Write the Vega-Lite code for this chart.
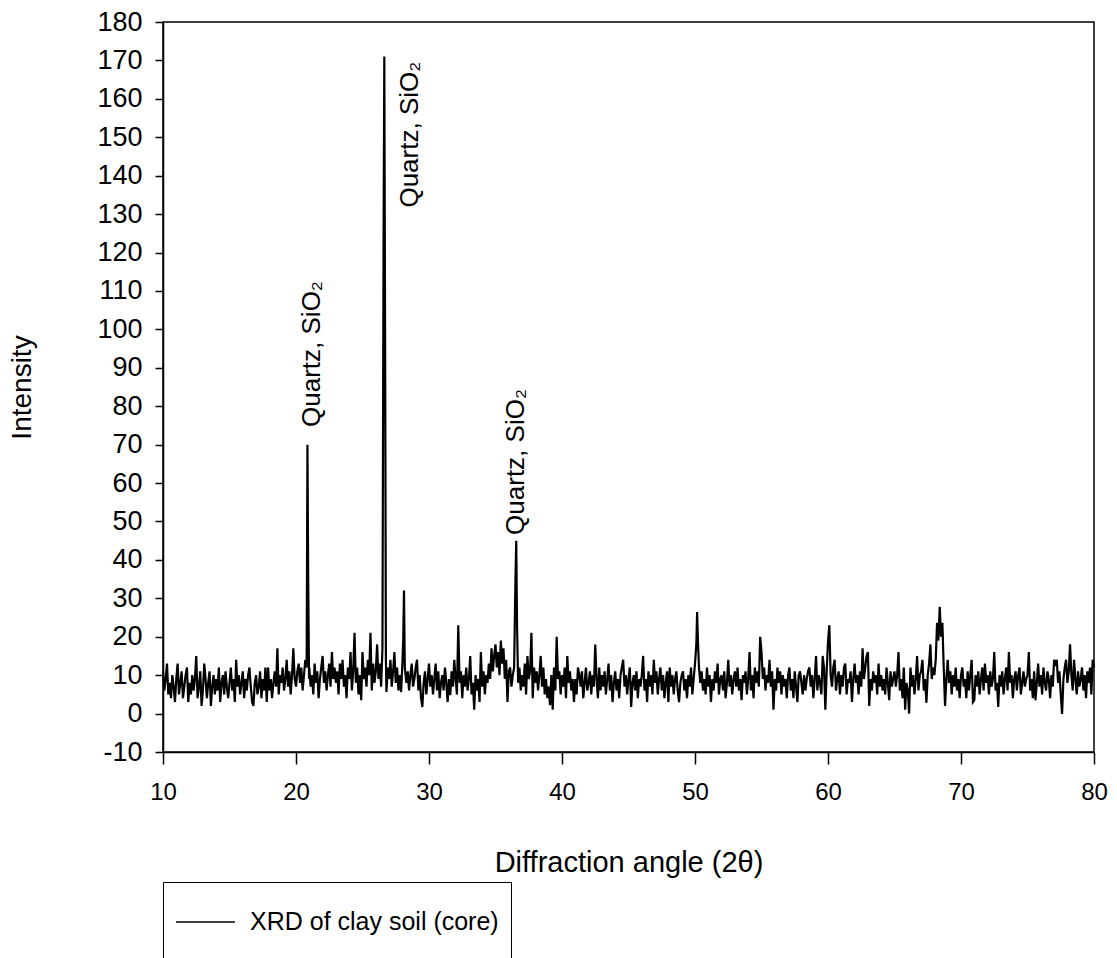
{
"$schema":"https://vega.github.io/schema/vega-lite/v6.json",
"width":931,"height":730,
"autosize":{"type":"none"},
"padding":{"left":163,"top":22,"right":23,"bottom":206},
"background":"white",
"datasets":{
"xrd":[
{"angle":10.0,"intensity":11},{"angle":10.1,"intensity":6},{"angle":10.2,"intensity":9},{"angle":10.3,"intensity":13},{"angle":10.4,"intensity":5},{"angle":10.5,"intensity":8},{"angle":10.6,"intensity":4},{"angle":10.7,"intensity":10},{"angle":10.8,"intensity":7},{"angle":10.9,"intensity":3},
{"angle":11.0,"intensity":9},{"angle":11.1,"intensity":13},{"angle":11.2,"intensity":5},{"angle":11.3,"intensity":8},{"angle":11.4,"intensity":11},{"angle":11.5,"intensity":4},{"angle":11.6,"intensity":7},{"angle":11.7,"intensity":10},{"angle":11.8,"intensity":12},{"angle":11.9,"intensity":3},
{"angle":12.0,"intensity":8},{"angle":12.1,"intensity":5},{"angle":12.2,"intensity":10},{"angle":12.3,"intensity":6},{"angle":12.4,"intensity":9},{"angle":12.5,"intensity":15},{"angle":12.6,"intensity":4},{"angle":12.7,"intensity":7},{"angle":12.8,"intensity":11},{"angle":12.9,"intensity":2},
{"angle":13.0,"intensity":6},{"angle":13.1,"intensity":13},{"angle":13.2,"intensity":9},{"angle":13.3,"intensity":4},{"angle":13.4,"intensity":8},{"angle":13.5,"intensity":11},{"angle":13.6,"intensity":2},{"angle":13.7,"intensity":7},{"angle":13.8,"intensity":10},{"angle":13.9,"intensity":5},
{"angle":14.0,"intensity":9},{"angle":14.1,"intensity":6},{"angle":14.2,"intensity":12},{"angle":14.3,"intensity":3},{"angle":14.4,"intensity":8},{"angle":14.5,"intensity":10},{"angle":14.6,"intensity":5},{"angle":14.7,"intensity":11},{"angle":14.8,"intensity":7},{"angle":14.9,"intensity":4},
{"angle":15.0,"intensity":8},{"angle":15.1,"intensity":12},{"angle":15.2,"intensity":6},{"angle":15.3,"intensity":9},{"angle":15.4,"intensity":3},{"angle":15.5,"intensity":14},{"angle":15.6,"intensity":7},{"angle":15.7,"intensity":10},{"angle":15.8,"intensity":5},{"angle":15.9,"intensity":8},
{"angle":16.0,"intensity":11},{"angle":16.1,"intensity":4},{"angle":16.2,"intensity":9},{"angle":16.3,"intensity":6},{"angle":16.4,"intensity":10},{"angle":16.5,"intensity":12},{"angle":16.6,"intensity":7},{"angle":16.7,"intensity":3},{"angle":16.8,"intensity":2},{"angle":16.9,"intensity":8},
{"angle":17.0,"intensity":10},{"angle":17.1,"intensity":5},{"angle":17.2,"intensity":7},{"angle":17.3,"intensity":11},{"angle":17.4,"intensity":4},{"angle":17.5,"intensity":9},{"angle":17.6,"intensity":6},{"angle":17.7,"intensity":12},{"angle":17.8,"intensity":3},{"angle":17.9,"intensity":12},
{"angle":18.0,"intensity":6},{"angle":18.1,"intensity":9},{"angle":18.2,"intensity":4},{"angle":18.3,"intensity":8},{"angle":18.4,"intensity":11},{"angle":18.5,"intensity":7},{"angle":18.6,"intensity":17},{"angle":18.7,"intensity":5},{"angle":18.8,"intensity":10},{"angle":18.9,"intensity":8},
{"angle":19.0,"intensity":12},{"angle":19.1,"intensity":6},{"angle":19.2,"intensity":9},{"angle":19.3,"intensity":14},{"angle":19.4,"intensity":7},{"angle":19.5,"intensity":11},{"angle":19.6,"intensity":5},{"angle":19.7,"intensity":10},{"angle":19.8,"intensity":17},{"angle":19.9,"intensity":9},
{"angle":20.0,"intensity":7},{"angle":20.1,"intensity":11},{"angle":20.2,"intensity":13},{"angle":20.3,"intensity":8},{"angle":20.4,"intensity":12},{"angle":20.5,"intensity":6},{"angle":20.6,"intensity":10},{"angle":20.7,"intensity":14},{"angle":20.8,"intensity":12},{"angle":20.86,"intensity":70},{"angle":20.92,"intensity":34},{"angle":20.98,"intensity":9},
{"angle":21.0,"intensity":12},{"angle":21.1,"intensity":7},{"angle":21.2,"intensity":10},{"angle":21.3,"intensity":5},{"angle":21.4,"intensity":13},{"angle":21.5,"intensity":8},{"angle":21.6,"intensity":11},{"angle":21.7,"intensity":4},{"angle":21.8,"intensity":9},{"angle":21.9,"intensity":12},
{"angle":22.0,"intensity":15},{"angle":22.1,"intensity":8},{"angle":22.2,"intensity":11},{"angle":22.3,"intensity":6},{"angle":22.4,"intensity":10},{"angle":22.5,"intensity":13},{"angle":22.6,"intensity":7},{"angle":22.7,"intensity":16},{"angle":22.8,"intensity":9},{"angle":22.9,"intensity":12},
{"angle":23.0,"intensity":8},{"angle":23.1,"intensity":11},{"angle":23.2,"intensity":5},{"angle":23.3,"intensity":13},{"angle":23.4,"intensity":9},{"angle":23.5,"intensity":14},{"angle":23.6,"intensity":7},{"angle":23.7,"intensity":10},{"angle":23.8,"intensity":4},{"angle":23.9,"intensity":12},
{"angle":24.0,"intensity":9},{"angle":24.1,"intensity":16},{"angle":24.2,"intensity":6},{"angle":24.3,"intensity":11},{"angle":24.4,"intensity":21},{"angle":24.5,"intensity":8},{"angle":24.6,"intensity":12},{"angle":24.7,"intensity":5},{"angle":24.8,"intensity":10},{"angle":24.9,"intensity":3.5},
{"angle":25.0,"intensity":16},{"angle":25.1,"intensity":9},{"angle":25.2,"intensity":12},{"angle":25.3,"intensity":7},{"angle":25.4,"intensity":14},{"angle":25.5,"intensity":10},{"angle":25.6,"intensity":21},{"angle":25.7,"intensity":6},{"angle":25.8,"intensity":13},{"angle":25.9,"intensity":8},
{"angle":26.0,"intensity":11},{"angle":26.1,"intensity":18},{"angle":26.2,"intensity":9},{"angle":26.3,"intensity":13},{"angle":26.4,"intensity":7},{"angle":26.5,"intensity":17},{"angle":26.58,"intensity":120},{"angle":26.64,"intensity":171},{"angle":26.7,"intensity":97},{"angle":26.76,"intensity":14},{"angle":26.8,"intensity":5.6},{"angle":26.9,"intensity":12},
{"angle":27.0,"intensity":9},{"angle":27.1,"intensity":14},{"angle":27.2,"intensity":7},{"angle":27.3,"intensity":11},{"angle":27.4,"intensity":16},{"angle":27.5,"intensity":8},{"angle":27.6,"intensity":12},{"angle":27.7,"intensity":6},{"angle":27.8,"intensity":10},{"angle":27.9,"intensity":5.6},
{"angle":28.0,"intensity":13},{"angle":28.06,"intensity":19},{"angle":28.12,"intensity":32},{"angle":28.18,"intensity":12},{"angle":28.3,"intensity":8},{"angle":28.4,"intensity":11},{"angle":28.5,"intensity":6},{"angle":28.6,"intensity":10},{"angle":28.7,"intensity":13},{"angle":28.8,"intensity":7},{"angle":28.9,"intensity":9},
{"angle":29.0,"intensity":12},{"angle":29.1,"intensity":14},{"angle":29.2,"intensity":6},{"angle":29.3,"intensity":10},{"angle":29.4,"intensity":4},{"angle":29.5,"intensity":1.7},{"angle":29.6,"intensity":8},{"angle":29.7,"intensity":11},{"angle":29.8,"intensity":5},{"angle":29.9,"intensity":9},
{"angle":30.0,"intensity":13},{"angle":30.1,"intensity":7},{"angle":30.2,"intensity":10},{"angle":30.3,"intensity":5},{"angle":30.4,"intensity":9},{"angle":30.5,"intensity":13},{"angle":30.6,"intensity":6},{"angle":30.7,"intensity":11},{"angle":30.8,"intensity":4},{"angle":30.9,"intensity":8},
{"angle":31.0,"intensity":10},{"angle":31.1,"intensity":6},{"angle":31.2,"intensity":12},{"angle":31.3,"intensity":8},{"angle":31.4,"intensity":3},{"angle":31.5,"intensity":9},{"angle":31.6,"intensity":4.8},{"angle":31.7,"intensity":11},{"angle":31.8,"intensity":7},{"angle":31.9,"intensity":14},
{"angle":32.0,"intensity":9},{"angle":32.1,"intensity":5},{"angle":32.2,"intensity":23},{"angle":32.3,"intensity":8},{"angle":32.4,"intensity":11},{"angle":32.5,"intensity":4},{"angle":32.6,"intensity":10},{"angle":32.7,"intensity":7},{"angle":32.8,"intensity":12},{"angle":32.9,"intensity":6},
{"angle":33.0,"intensity":9},{"angle":33.1,"intensity":15},{"angle":33.2,"intensity":5},{"angle":33.3,"intensity":8},{"angle":33.4,"intensity":1},{"angle":33.5,"intensity":10},{"angle":33.6,"intensity":6},{"angle":33.7,"intensity":9},{"angle":33.8,"intensity":3},{"angle":33.9,"intensity":16},
{"angle":34.0,"intensity":7},{"angle":34.1,"intensity":11},{"angle":34.2,"intensity":5},{"angle":34.3,"intensity":10},{"angle":34.4,"intensity":8},{"angle":34.5,"intensity":13},{"angle":34.6,"intensity":9},{"angle":34.7,"intensity":17},{"angle":34.8,"intensity":11},{"angle":34.9,"intensity":15},
{"angle":35.0,"intensity":18},{"angle":35.1,"intensity":12},{"angle":35.2,"intensity":16},{"angle":35.3,"intensity":10},{"angle":35.4,"intensity":19},{"angle":35.5,"intensity":13},{"angle":35.6,"intensity":17},{"angle":35.7,"intensity":9},{"angle":35.8,"intensity":14},{"angle":35.9,"intensity":3},
{"angle":36.0,"intensity":11},{"angle":36.1,"intensity":12},{"angle":36.2,"intensity":7},{"angle":36.3,"intensity":10},{"angle":36.4,"intensity":12},{"angle":36.5,"intensity":35},{"angle":36.56,"intensity":45},{"angle":36.62,"intensity":23},{"angle":36.7,"intensity":8},{"angle":36.8,"intensity":12},{"angle":36.9,"intensity":6},
{"angle":37.0,"intensity":10},{"angle":37.1,"intensity":7},{"angle":37.2,"intensity":13},{"angle":37.3,"intensity":5},{"angle":37.4,"intensity":15},{"angle":37.5,"intensity":9},{"angle":37.6,"intensity":11},{"angle":37.7,"intensity":21},{"angle":37.8,"intensity":4},{"angle":37.9,"intensity":12},
{"angle":38.0,"intensity":8},{"angle":38.1,"intensity":11},{"angle":38.2,"intensity":6},{"angle":38.3,"intensity":10},{"angle":38.4,"intensity":15},{"angle":38.5,"intensity":7},{"angle":38.6,"intensity":12},{"angle":38.7,"intensity":5},{"angle":38.8,"intensity":9},{"angle":38.9,"intensity":4},
{"angle":39.0,"intensity":7},{"angle":39.1,"intensity":2.2},{"angle":39.2,"intensity":10},{"angle":39.3,"intensity":1},{"angle":39.4,"intensity":12},{"angle":39.5,"intensity":6},{"angle":39.6,"intensity":20},{"angle":39.7,"intensity":9},{"angle":39.8,"intensity":11},{"angle":39.9,"intensity":5},
{"angle":40.0,"intensity":10},{"angle":40.1,"intensity":7},{"angle":40.2,"intensity":12},{"angle":40.3,"intensity":4},{"angle":40.4,"intensity":15},{"angle":40.5,"intensity":8},{"angle":40.6,"intensity":11},{"angle":40.7,"intensity":6},{"angle":40.8,"intensity":9},{"angle":40.9,"intensity":3},
{"angle":41.0,"intensity":9},{"angle":41.1,"intensity":5},{"angle":41.2,"intensity":12},{"angle":41.3,"intensity":10},{"angle":41.4,"intensity":7},{"angle":41.5,"intensity":11},{"angle":41.6,"intensity":4},{"angle":41.7,"intensity":8},{"angle":41.8,"intensity":12},{"angle":41.9,"intensity":6},
{"angle":42.0,"intensity":8},{"angle":42.1,"intensity":11},{"angle":42.2,"intensity":5},{"angle":42.3,"intensity":10},{"angle":42.4,"intensity":7},{"angle":42.5,"intensity":18},{"angle":42.6,"intensity":9},{"angle":42.7,"intensity":4},{"angle":42.8,"intensity":12},{"angle":42.9,"intensity":6},
{"angle":43.0,"intensity":10},{"angle":43.1,"intensity":7},{"angle":43.2,"intensity":11},{"angle":43.3,"intensity":5},{"angle":43.4,"intensity":9},{"angle":43.5,"intensity":13},{"angle":43.6,"intensity":6},{"angle":43.7,"intensity":10},{"angle":43.8,"intensity":3},{"angle":43.9,"intensity":8},
{"angle":44.0,"intensity":11},{"angle":44.1,"intensity":6},{"angle":44.2,"intensity":9},{"angle":44.3,"intensity":4},{"angle":44.4,"intensity":10},{"angle":44.5,"intensity":12},{"angle":44.6,"intensity":14},{"angle":44.7,"intensity":7},{"angle":44.8,"intensity":10},{"angle":44.9,"intensity":5},
{"angle":45.0,"intensity":9},{"angle":45.1,"intensity":12},{"angle":45.2,"intensity":1.7},{"angle":45.3,"intensity":8},{"angle":45.4,"intensity":10},{"angle":45.5,"intensity":6},{"angle":45.6,"intensity":11},{"angle":45.7,"intensity":4},{"angle":45.8,"intensity":9},{"angle":45.9,"intensity":7},
{"angle":46.0,"intensity":10},{"angle":46.1,"intensity":15},{"angle":46.2,"intensity":6},{"angle":46.3,"intensity":9},{"angle":46.4,"intensity":3},{"angle":46.5,"intensity":11},{"angle":46.6,"intensity":7},{"angle":46.7,"intensity":10},{"angle":46.8,"intensity":5},{"angle":46.9,"intensity":14},
{"angle":47.0,"intensity":8},{"angle":47.1,"intensity":11},{"angle":47.2,"intensity":5},{"angle":47.3,"intensity":9},{"angle":47.4,"intensity":12},{"angle":47.5,"intensity":6},{"angle":47.6,"intensity":10},{"angle":47.7,"intensity":4},{"angle":47.8,"intensity":8},{"angle":47.9,"intensity":11},
{"angle":48.0,"intensity":3},{"angle":48.1,"intensity":12},{"angle":48.2,"intensity":7},{"angle":48.3,"intensity":10},{"angle":48.4,"intensity":5},{"angle":48.5,"intensity":9},{"angle":48.6,"intensity":11},{"angle":48.7,"intensity":6},{"angle":48.8,"intensity":3},{"angle":48.9,"intensity":8},
{"angle":49.0,"intensity":10},{"angle":49.1,"intensity":11},{"angle":49.2,"intensity":6},{"angle":49.3,"intensity":9},{"angle":49.4,"intensity":4},{"angle":49.5,"intensity":10},{"angle":49.6,"intensity":7},{"angle":49.7,"intensity":12},{"angle":49.8,"intensity":5},{"angle":49.9,"intensity":9},
{"angle":50.0,"intensity":13},{"angle":50.1,"intensity":18},{"angle":50.16,"intensity":26.4},{"angle":50.22,"intensity":19},{"angle":50.3,"intensity":12},{"angle":50.4,"intensity":8},{"angle":50.5,"intensity":11},{"angle":50.6,"intensity":6},{"angle":50.7,"intensity":9},{"angle":50.8,"intensity":5},{"angle":50.9,"intensity":12},
{"angle":51.0,"intensity":7},{"angle":51.1,"intensity":10},{"angle":51.2,"intensity":3},{"angle":51.3,"intensity":9},{"angle":51.4,"intensity":6},{"angle":51.5,"intensity":11},{"angle":51.6,"intensity":8},{"angle":51.7,"intensity":13},{"angle":51.8,"intensity":5},{"angle":51.9,"intensity":9},
{"angle":52.0,"intensity":10},{"angle":52.1,"intensity":6},{"angle":52.2,"intensity":11},{"angle":52.3,"intensity":4},{"angle":52.4,"intensity":8},{"angle":52.5,"intensity":14},{"angle":52.6,"intensity":7},{"angle":52.7,"intensity":10},{"angle":52.8,"intensity":5},{"angle":52.9,"intensity":9},
{"angle":53.0,"intensity":11},{"angle":53.1,"intensity":7},{"angle":53.2,"intensity":12},{"angle":53.3,"intensity":6},{"angle":53.4,"intensity":9},{"angle":53.5,"intensity":3.5},{"angle":53.6,"intensity":10},{"angle":53.7,"intensity":8},{"angle":53.8,"intensity":11},{"angle":53.9,"intensity":5},
{"angle":54.0,"intensity":9},{"angle":54.1,"intensity":16},{"angle":54.2,"intensity":6},{"angle":54.3,"intensity":10},{"angle":54.4,"intensity":4},{"angle":54.5,"intensity":12},{"angle":54.6,"intensity":8},{"angle":54.7,"intensity":11},{"angle":54.8,"intensity":7},{"angle":54.9,"intensity":20},
{"angle":55.0,"intensity":16},{"angle":55.1,"intensity":9},{"angle":55.2,"intensity":12},{"angle":55.3,"intensity":6},{"angle":55.4,"intensity":10},{"angle":55.5,"intensity":8},{"angle":55.6,"intensity":14},{"angle":55.7,"intensity":7},{"angle":55.8,"intensity":11},{"angle":55.9,"intensity":1},
{"angle":56.0,"intensity":9},{"angle":56.1,"intensity":6},{"angle":56.2,"intensity":12},{"angle":56.3,"intensity":8},{"angle":56.4,"intensity":11},{"angle":56.5,"intensity":5},{"angle":56.6,"intensity":10},{"angle":56.7,"intensity":7},{"angle":56.8,"intensity":9},{"angle":56.9,"intensity":4},
{"angle":57.0,"intensity":10},{"angle":57.1,"intensity":12},{"angle":57.2,"intensity":6},{"angle":57.3,"intensity":9},{"angle":57.4,"intensity":4},{"angle":57.5,"intensity":11},{"angle":57.6,"intensity":7},{"angle":57.7,"intensity":3},{"angle":57.8,"intensity":10},{"angle":57.9,"intensity":11},
{"angle":58.0,"intensity":8},{"angle":58.1,"intensity":5},{"angle":58.2,"intensity":10},{"angle":58.3,"intensity":6},{"angle":58.4,"intensity":9},{"angle":58.5,"intensity":11},{"angle":58.6,"intensity":12},{"angle":58.7,"intensity":7},{"angle":58.8,"intensity":10},{"angle":58.9,"intensity":4},
{"angle":59.0,"intensity":9},{"angle":59.1,"intensity":15},{"angle":59.2,"intensity":6},{"angle":59.3,"intensity":10},{"angle":59.4,"intensity":8},{"angle":59.5,"intensity":5},{"angle":59.6,"intensity":15},{"angle":59.7,"intensity":12},{"angle":59.8,"intensity":1},{"angle":59.9,"intensity":11},
{"angle":60.0,"intensity":18.7},{"angle":60.1,"intensity":23},{"angle":60.2,"intensity":10},{"angle":60.3,"intensity":7},{"angle":60.4,"intensity":12},{"angle":60.5,"intensity":14},{"angle":60.6,"intensity":6},{"angle":60.7,"intensity":9},{"angle":60.8,"intensity":11},{"angle":60.9,"intensity":5},
{"angle":61.0,"intensity":10},{"angle":61.1,"intensity":7},{"angle":61.2,"intensity":12},{"angle":61.3,"intensity":13},{"angle":61.4,"intensity":5},{"angle":61.5,"intensity":9},{"angle":61.6,"intensity":8},{"angle":61.7,"intensity":11},{"angle":61.8,"intensity":3},{"angle":61.9,"intensity":9},
{"angle":62.0,"intensity":13},{"angle":62.1,"intensity":8},{"angle":62.2,"intensity":10},{"angle":62.3,"intensity":5},{"angle":62.4,"intensity":11},{"angle":62.5,"intensity":7},{"angle":62.6,"intensity":17},{"angle":62.7,"intensity":9},{"angle":62.8,"intensity":12},{"angle":62.9,"intensity":15},
{"angle":63.0,"intensity":16},{"angle":63.1,"intensity":2},{"angle":63.2,"intensity":9},{"angle":63.3,"intensity":6},{"angle":63.4,"intensity":11},{"angle":63.5,"intensity":8},{"angle":63.6,"intensity":10},{"angle":63.7,"intensity":5},{"angle":63.8,"intensity":13},{"angle":63.9,"intensity":7},
{"angle":64.0,"intensity":10},{"angle":64.1,"intensity":6},{"angle":64.2,"intensity":9},{"angle":64.3,"intensity":5},{"angle":64.4,"intensity":12},{"angle":64.5,"intensity":8},{"angle":64.6,"intensity":3.5},{"angle":64.7,"intensity":11},{"angle":64.8,"intensity":7},{"angle":64.9,"intensity":9},
{"angle":65.0,"intensity":11},{"angle":65.1,"intensity":7},{"angle":65.2,"intensity":10},{"angle":65.3,"intensity":16},{"angle":65.4,"intensity":6},{"angle":65.5,"intensity":9},{"angle":65.6,"intensity":4},{"angle":65.7,"intensity":12},{"angle":65.8,"intensity":1},{"angle":65.9,"intensity":8},
{"angle":66.0,"intensity":6},{"angle":66.1,"intensity":0},{"angle":66.2,"intensity":12},{"angle":66.3,"intensity":7},{"angle":66.4,"intensity":10},{"angle":66.5,"intensity":5},{"angle":66.6,"intensity":9},{"angle":66.7,"intensity":15},{"angle":66.8,"intensity":6},{"angle":66.9,"intensity":10},
{"angle":67.0,"intensity":11},{"angle":67.1,"intensity":14},{"angle":67.2,"intensity":6},{"angle":67.3,"intensity":9},{"angle":67.4,"intensity":2.8},{"angle":67.5,"intensity":10},{"angle":67.6,"intensity":13},{"angle":67.7,"intensity":18},{"angle":67.8,"intensity":9},{"angle":67.9,"intensity":12},
{"angle":68.0,"intensity":10},{"angle":68.1,"intensity":14},{"angle":68.2,"intensity":23.6},{"angle":68.3,"intensity":19},{"angle":68.4,"intensity":27.8},{"angle":68.5,"intensity":20},{"angle":68.6,"intensity":23.6},{"angle":68.7,"intensity":12},{"angle":68.8,"intensity":2},{"angle":68.9,"intensity":9},
{"angle":69.0,"intensity":14},{"angle":69.1,"intensity":8},{"angle":69.2,"intensity":11},{"angle":69.3,"intensity":5},{"angle":69.4,"intensity":10},{"angle":69.5,"intensity":7},{"angle":69.6,"intensity":12},{"angle":69.7,"intensity":6},{"angle":69.8,"intensity":9},{"angle":69.9,"intensity":4},
{"angle":70.0,"intensity":10},{"angle":70.1,"intensity":12},{"angle":70.2,"intensity":7},{"angle":70.3,"intensity":9},{"angle":70.4,"intensity":4},{"angle":70.5,"intensity":11},{"angle":70.6,"intensity":6},{"angle":70.7,"intensity":10},{"angle":70.8,"intensity":14},{"angle":70.9,"intensity":3},
{"angle":71.0,"intensity":3.5},{"angle":71.1,"intensity":10},{"angle":71.2,"intensity":7},{"angle":71.3,"intensity":11},{"angle":71.4,"intensity":5},{"angle":71.5,"intensity":9},{"angle":71.6,"intensity":12},{"angle":71.7,"intensity":6},{"angle":71.8,"intensity":13},{"angle":71.9,"intensity":8},
{"angle":72.0,"intensity":10},{"angle":72.1,"intensity":5},{"angle":72.2,"intensity":11},{"angle":72.3,"intensity":7},{"angle":72.4,"intensity":9},{"angle":72.5,"intensity":16},{"angle":72.6,"intensity":6},{"angle":72.7,"intensity":8},{"angle":72.8,"intensity":1.7},{"angle":72.9,"intensity":10},
{"angle":73.0,"intensity":7},{"angle":73.1,"intensity":11},{"angle":73.2,"intensity":5},{"angle":73.3,"intensity":9},{"angle":73.4,"intensity":12},{"angle":73.5,"intensity":6},{"angle":73.6,"intensity":16},{"angle":73.7,"intensity":8},{"angle":73.8,"intensity":10},{"angle":73.9,"intensity":4},
{"angle":74.0,"intensity":9},{"angle":74.1,"intensity":11},{"angle":74.2,"intensity":6},{"angle":74.3,"intensity":10},{"angle":74.4,"intensity":12},{"angle":74.5,"intensity":5},{"angle":74.6,"intensity":8},{"angle":74.7,"intensity":11},{"angle":74.8,"intensity":7},{"angle":74.9,"intensity":9},
{"angle":75.0,"intensity":10},{"angle":75.1,"intensity":16},{"angle":75.2,"intensity":6},{"angle":75.3,"intensity":9},{"angle":75.4,"intensity":4},{"angle":75.5,"intensity":11},{"angle":75.6,"intensity":3.5},{"angle":75.7,"intensity":8},{"angle":75.8,"intensity":13},{"angle":75.9,"intensity":7},
{"angle":76.0,"intensity":10},{"angle":76.1,"intensity":5},{"angle":76.2,"intensity":12},{"angle":76.3,"intensity":8},{"angle":76.4,"intensity":6},{"angle":76.5,"intensity":11},{"angle":76.6,"intensity":9},{"angle":76.7,"intensity":4},{"angle":76.8,"intensity":10},{"angle":76.9,"intensity":7},
{"angle":77.0,"intensity":14},{"angle":77.1,"intensity":13},{"angle":77.2,"intensity":14},{"angle":77.3,"intensity":8},{"angle":77.4,"intensity":11},{"angle":77.5,"intensity":5},{"angle":77.6,"intensity":-0.1},{"angle":77.7,"intensity":9},{"angle":77.8,"intensity":12},{"angle":77.9,"intensity":14},
{"angle":78.0,"intensity":8},{"angle":78.1,"intensity":11},{"angle":78.2,"intensity":18},{"angle":78.3,"intensity":10},{"angle":78.4,"intensity":6},{"angle":78.5,"intensity":14},{"angle":78.6,"intensity":9},{"angle":78.7,"intensity":5},{"angle":78.8,"intensity":11},{"angle":78.9,"intensity":7},
{"angle":79.0,"intensity":9},{"angle":79.1,"intensity":12},{"angle":79.2,"intensity":6},{"angle":79.3,"intensity":10},{"angle":79.4,"intensity":4},{"angle":79.5,"intensity":11},{"angle":79.6,"intensity":8},{"angle":79.7,"intensity":12},{"angle":79.8,"intensity":5},{"angle":79.9,"intensity":14},
{"angle":80.0,"intensity":12}
],
"notes":[
{"angle":21.8,"intensity":74.6,"label":"Quartz, SiO₂"},
{"angle":29.15,"intensity":131.7,"label":"Quartz, SiO₂"},
{"angle":37.15,"intensity":46.5,"label":"Quartz, SiO₂"}
]
},
"encoding":{
  "x":{"field":"angle","type":"quantitative","scale":{"domain":[10,80],"nice":false,"zero":false},
   "axis":{"title":"Diffraction angle (2θ)","values":[10,20,30,40,50,60,70,80],"labelFlush":false,"labelOverlap":false,"tickSize":12,"labelPadding":16,"labelFontSize":24,"titleFontSize":29,"titlePadding":44}},
  "y":{"field":"intensity","type":"quantitative","scale":{"domain":[-10,180],"nice":false,"zero":false},
   "axis":{"title":"Intensity","values":[-10,0,10,20,30,40,50,60,70,80,90,100,110,120,130,140,150,160,170,180],"labelExpr":"''+datum.value","labelOverlap":false,"labelSeparation":-30,"labelBound":false,"tickSize":8,"labelPadding":13,"labelFontSize":27,"titleFontSize":28,"titlePadding":60}}
},
"layer":[
{"data":{"name":"xrd"},
 "mark":{"type":"line","strokeWidth":2.2,"interpolate":"linear","strokeJoin":"miter"},
 "encoding":{
  "color":{"datum":"XRD of clay soil (core)","type":"nominal","scale":{"range":["black"]},
   "legend":{"orient":"none","legendX":0,"legendY":860,"title":null,"symbolType":"stroke","symbolSize":3481,"symbolStrokeWidth":1.5,"labelFontSize":25,"labelFont":"Liberation Sans","labelColor":"black","labelLimit":500,"labelOffset":14,"strokeColor":"black","padding":12,"clipHeight":56,"fillColor":"white"}}
 }},
{"data":{"name":"notes"},
 "mark":{"type":"text","angle":270,"align":"left","baseline":"alphabetic","font":"Liberation Sans","fontSize":26,"color":"black"},
 "encoding":{
  "text":{"field":"label"}
 }}
],
"config":{
 "view":{"stroke":"black","strokeWidth":1.5},
 "axis":{"grid":false,"domainColor":"black","domainWidth":1.5,"tickColor":"black","tickWidth":1.5,"labelColor":"black","titleColor":"black","labelFont":"Liberation Sans","titleFont":"Liberation Sans","titleFontWeight":"normal"},
 "axisY":{"labelOverlap":false,"labelSeparation":-30}
}
}
